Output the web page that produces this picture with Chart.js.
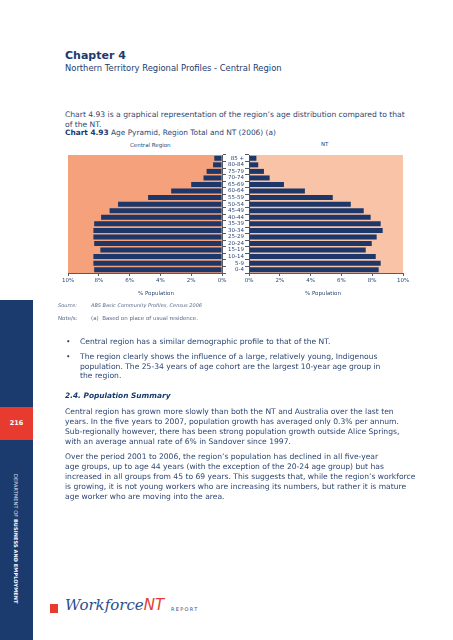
<!DOCTYPE html>
<html>
<head>
<meta charset="utf-8">
<script src="https://cdn.jsdelivr.net/npm/chart.js@4.4.0/dist/chart.umd.min.js"></script>
<style>
body{margin:0;width:453px;height:640px;position:relative;background:#fff;overflow:hidden;
  font-family:"DejaVu Sans",sans-serif;color:#2d4775}
.t{position:absolute;white-space:nowrap;line-height:1}
.body7{font-size:7.6px}
#side{position:absolute;left:0;top:300px;width:33px;height:340px;background:#1b3a6e}
#pagebox{position:absolute;left:0;top:407px;width:33px;height:33px;background:#e63b2e;color:#fff;
  font-size:6.5px;font-weight:bold;text-align:center;line-height:33px}
#vert{position:absolute;left:13px;top:474px;writing-mode:vertical-rl;font-size:5px;color:#dfe6f2;white-space:nowrap;letter-spacing:0.1px}
#vert b{color:#fff}
#redsq{position:absolute;left:50px;top:604px;width:8px;height:9px;background:#e63b2e}
#c_left{position:absolute;left:55px;top:150px}
#c_right{position:absolute;left:226px;top:150px}
</style>
</head>
<body>
<div id="side"></div>
<div id="pagebox">216</div>
<div id="vert">DEPARTMENT OF <b>BUSINESS AND EMPLOYMENT</b></div>

<div class="t" style="left:65px;top:50px;font-size:11px;font-weight:bold;color:#1b3a6e">Chapter 4</div>
<div class="t" style="left:65px;top:64px;font-size:8.4px;color:#1b3a6e">Northern Territory Regional Profiles - Central Region</div>

<div class="t body7" style="left:65px;top:111px">Chart 4.93 is a graphical representation of the region’s age distribution compared to that</div>
<div class="t body7" style="left:65px;top:121px">of the NT.</div>
<div class="t" style="left:65px;top:129px;font-size:7.4px"><b style="color:#1b3a6e">Chart 4.93</b> Age Pyramid, Region Total and NT (2006) (a)</div>

<div class="t" style="left:130px;top:143px;font-size:5.5px">Central Region</div>
<div class="t" style="left:321px;top:141.5px;font-size:5.5px">NT</div>

<canvas id="c_left" width="172" height="150"></canvas>
<canvas id="c_right" width="186" height="150"></canvas>

<div class="t" style="left:138px;top:291px;font-size:5.5px">% Population</div>
<div class="t" style="left:305px;top:291px;font-size:5.5px">% Population</div>

<div class="t" style="left:58px;top:303px;font-size:5px;font-style:italic;color:#5a6b8a">Source:</div>
<div class="t" style="left:91px;top:303px;font-size:5px;font-style:italic;color:#5a6b8a">ABS Basic Community Profiles, Census 2006</div>
<div class="t" style="left:58px;top:315.5px;font-size:5.5px;color:#5a6b8a">Note/s:</div>
<div class="t" style="left:91px;top:315.5px;font-size:5.5px;color:#5a6b8a">(a)&nbsp; Based on place of usual residence.</div>

<div class="t body7" style="left:66px;top:338px">•</div>
<div class="t body7" style="left:80px;top:338px">Central region has a similar demographic profile to that of the NT.</div>
<div class="t body7" style="left:66px;top:352.5px">•</div>
<div class="t body7" style="left:80px;top:352.5px">The region clearly shows the influence of a large, relatively young, Indigenous</div>
<div class="t body7" style="left:80px;top:362.5px">population.  The 25-34 years of age cohort are the largest 10-year age group in</div>
<div class="t body7" style="left:80px;top:372px">the region.</div>

<div class="t" style="left:65px;top:392px;font-size:7.4px;font-weight:bold;font-style:italic;color:#1b3a6e">2.4. Population Summary</div>

<div class="t body7" style="left:65px;top:408px">Central region has grown more slowly than both the NT and Australia over the last ten</div>
<div class="t body7" style="left:65px;top:417.5px">years.  In the five years to 2007, population growth has averaged only 0.3% per annum.</div>
<div class="t body7" style="left:65px;top:427.5px">Sub-regionally however, there has been strong population growth outside Alice Springs,</div>
<div class="t body7" style="left:65px;top:437.5px">with an average annual rate of 6% in Sandover since 1997.</div>

<div class="t body7" style="left:65px;top:452.5px">Over the period 2001 to 2006, the region’s population has declined in all five-year</div>
<div class="t body7" style="left:65px;top:462.5px">age groups, up to age 44 years (with the exception of the 20-24 age group) but has</div>
<div class="t body7" style="left:65px;top:472.5px">increased in all groups from 45 to 69 years.  This suggests that, while the region’s workforce</div>
<div class="t body7" style="left:65px;top:482.5px">is growing, it is not young workers who are increasing its numbers, but rather it is mature</div>
<div class="t body7" style="left:65px;top:492.5px">age worker who are moving into the area.</div>

<div id="redsq"></div>
<div class="t" style="left:65px;top:598px;font-size:15px;font-family:'DejaVu Serif',serif;font-style:italic;color:#2d4e8a">Workforce<span style="color:#e63b2e;font-family:'DejaVu Sans'">NT</span></div>
<div class="t" style="left:171px;top:607px;font-size:5px;letter-spacing:1.3px;color:#2d4e8a">REPORT</div>

<script>
/** datos: porcentaje de poblacion por grupo de edad, de 0-4 hacia arriba */
let age_groups = ["0-4","5-9","10-14","15-19","20-24","25-29","30-34","35-39","40-44","45-49",
                  "50-54","55-59","60-64","65-69","70-74","75-79","80-84","85 +"]
let central_region = [8.3,8.35,8.35,7.9,8.3,8.35,8.35,8.3,7.85,7.3,6.75,4.8,3.3,2.0,1.2,1.0,0.58,0.5]
let nt_values = [8.42,8.55,8.23,7.58,7.97,8.29,8.68,8.55,7.9,7.45,6.61,5.44,3.63,2.27,1.34,0.97,0.6,0.48]
let x_ticks = [0,2,4,6,8,10]

let bar_color = "#1c3768"
let axis_color = "#555b66"
let tick_font = {family:"DejaVu Sans",size:5.5}

/** pintamos el fondo del area del grafico */
function fondo(color){
    return {
        id:"fondo",
        beforeDraw(chart){
            let a = chart.chartArea
            chart.ctx.save()
            chart.ctx.fillStyle = color
            chart.ctx.fillRect(a.left,a.top,a.right-a.left,a.bottom-a.top)
            chart.ctx.restore()
        }
    }
}

function x_scale(reverse){
    return {
        type:"linear", min:0, max:10, reverse:reverse,
        afterBuildTicks(s){ s.ticks = x_ticks.map(v => ({value:v})) },
        afterFit(s){ s.height = 27 },
        ticks:{color:"#2d4775",font:tick_font,padding:1,callback:v => v + "%"},
        grid:{drawOnChartArea:false,tickLength:3,color:axis_color},
        border:{color:axis_color}
    }
}

/** grafica izquierda: region central */
new Chart(document.getElementById("c_left"),{
  type:"bar",
  data:{
    labels:age_groups,
    datasets:[{data:central_region,backgroundColor:bar_color,barPercentage:0.76,categoryPercentage:1}]
  },
  options:{
    indexAxis:"y", responsive:false, animation:false,
    layout:{padding:{left:13,top:5,right:0,bottom:0}},
    plugins:{legend:{display:false},tooltip:{enabled:false}},
    scales:{
      x:x_scale(true),
      y:{
        position:"right", reverse:true,
        afterFit(s){ s.width = 5 },
        ticks:{display:false},
        grid:{drawOnChartArea:false,tickLength:4,color:axis_color},
        border:{color:axis_color}
      }
    }
  },
  plugins:[fondo("#f4a17c")]
})

/** grafica derecha: NT */
new Chart(document.getElementById("c_right"),{
  type:"bar",
  data:{
    labels:age_groups,
    datasets:[{data:nt_values,backgroundColor:bar_color,barPercentage:0.76,categoryPercentage:1}]
  },
  options:{
    indexAxis:"y", responsive:false, animation:false,
    layout:{padding:{left:0,top:5,right:9,bottom:0}},
    plugins:{legend:{display:false},tooltip:{enabled:false}},
    scales:{
      x:x_scale(false),
      y:{
        position:"left", reverse:true,
        afterFit(s){ s.width = 23 },
        ticks:{color:"#2d4775",font:tick_font,padding:1,autoSkip:false},
        grid:{drawOnChartArea:false,tickLength:4,color:axis_color},
        border:{color:axis_color}
      }
    }
  },
  plugins:[fondo("#f9c3a8")]
})
</script>
</body>
</html>
